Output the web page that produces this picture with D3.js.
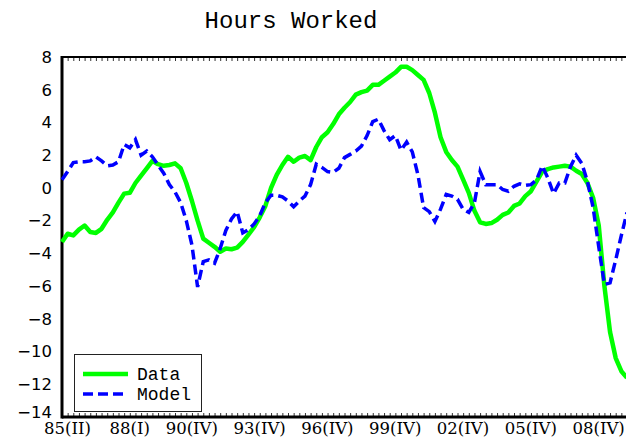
<!DOCTYPE html>
<html>
<head>
<meta charset="utf-8">
<script src="https://cdn.jsdelivr.net/npm/d3@7"></script>
<style>
  body { margin: 0; background: #fff; }
  #my_dataviz { width: 626px; height: 445px; overflow: hidden; }
</style>
</head>
<body>
<div id="my_dataviz"></div>
<script>
// quarterly observations, 85(II) through 10(II)
const startYear = 1985, startQ = 2, nObs = 101;
const romans = ['I', 'II', 'III', 'IV'];
const quarters = [];
for (let k = 0; k < nObs; k++) {
    const q = startQ - 1 + k;
    const yr = (startYear + Math.floor(q / 4)) % 100;
    quarters.push(String(yr).padStart(2, '0') + '(' + romans[q % 4] + ')');
}

const tickLabels = ['85(II)', '88(I)', '90(IV)', '93(IV)', '96(IV)', '99(IV)', '02(IV)', '05(IV)', '08(IV)'];
const yTicks = [8, 6, 4, 2, 0, -2, -4, -6, -8, -10, -12, -14];

const dataSeries = [
    -3.3, -2.8, -2.9, -2.55, -2.3, -2.7, -2.75, -2.5, -1.95, -1.5,
    -0.9, -0.35, -0.3, 0.3, 0.75, 1.2, 1.65, 1.45, 1.35, 1.4,
    1.5, 1.2, 0.3, -0.8, -2.0, -3.1, -3.35, -3.6, -3.9, -3.7,
    -3.75, -3.65, -3.3, -2.85, -2.4, -1.8, -1.1, 0.0, 0.8, 1.4,
    1.9, 1.6, 1.85, 1.95, 1.7, 2.5, 3.1, 3.4, 3.9, 4.5,
    4.9, 5.25, 5.7, 5.85, 5.95, 6.3, 6.3, 6.55, 6.8, 7.05,
    7.4, 7.4, 7.2, 6.9, 6.6, 5.8, 4.6, 3.1, 2.2, 1.7,
    1.3, 0.5, -0.3, -1.4, -2.1, -2.2, -2.15, -1.95, -1.65, -1.5,
    -1.1, -0.95, -0.5, -0.2, 0.4, 1.0, 1.15, 1.25, 1.3, 1.35,
    1.3, 1.05, 0.85, 0.3, -0.6, -2.3, -6.0, -8.8, -10.4, -11.2,
    -11.6
];

const modelSeries = [
    0.5, 1.0, 1.55, 1.6, 1.6, 1.65, 1.9, 1.65, 1.35, 1.4,
    1.6, 2.65, 2.45, 2.95, 2.0, 2.25, 1.9, 1.4, 0.9, 0.2,
    -0.25, -0.9, -2.0, -3.5, -6.05, -4.5, -4.4, -4.6, -3.7, -2.6,
    -1.9, -1.45, -2.75, -2.55, -2.2, -1.7, -0.9, -0.45, -0.45, -0.55,
    -0.8, -1.15, -0.8, -0.5, 0.2, 1.45, 1.25, 1.0, 0.95, 1.2,
    1.85, 2.05, 2.25, 2.55, 3.2, 4.05, 4.2, 3.5, 2.95, 3.2,
    2.3, 2.8, 2.2, 0.8, -1.2, -1.45, -2.05, -1.3, -0.4, -0.5,
    -0.7, -1.3, -1.5, -0.9, 1.0, 0.2, 0.2, 0.2, -0.1, -0.2,
    0.1, 0.25, 0.15, 0.2, 0.5, 1.35, 0.6, -0.35, 0.3, 0.3,
    1.3, 2.0, 1.5, 0.4, -1.2, -3.6, -5.9, -5.8, -4.4, -2.9,
    -1.5
];

const seriesNames = ['Data', 'Model'];

let w = 626, h = 445;
const margin = { top: 57, right: -1, bottom: 28, left: 62 };

const svg = d3.select("#my_dataviz")
    .append("svg")
    .attr("width", w)
    .attr("height", h);

const x = d3.scalePoint()
    .domain(quarters)
    .range([margin.left, w - margin.right]);

const y = d3.scaleLinear()
    .domain([-14, 8])
    .range([h - margin.bottom, margin.top]);

const plotTop = y(8), plotBottom = y(-14);

// title
svg.append("text")
    .attr("x", 291)
    .attr("y", 28)
    .attr("text-anchor", "middle")
    .style("font-family", "'Liberation Mono', 'Courier New', monospace")
    .style("font-size", "24px")
    .text("Hours Worked");

// minor quarter ticks on top and bottom
const axTop = d3.axisBottom(x).tickSize(4).tickFormat("");
svg.append("g")
    .attr("transform", `translate(0,${plotTop})`)
    .call(axTop)
    .call(g => g.select(".domain").remove())
    .selectAll("line").attr("stroke", "#333");

const axBot = d3.axisTop(x).tickSize(4).tickFormat("");
svg.append("g")
    .attr("transform", `translate(0,${plotBottom})`)
    .call(axBot)
    .call(g => g.select(".domain").remove())
    .selectAll("line").attr("stroke", "#333");

// frame
svg.append("line")
    .attr("x1", margin.left).attr("x2", w + 5)
    .attr("y1", plotTop).attr("y2", plotTop)
    .attr("stroke", "#000").attr("stroke-width", 2);
svg.append("line")
    .attr("x1", margin.left).attr("x2", w + 5)
    .attr("y1", plotBottom).attr("y2", plotBottom)
    .attr("stroke", "#000").attr("stroke-width", 3);
svg.append("line")
    .attr("x1", margin.left).attr("x2", margin.left)
    .attr("y1", plotTop - 1).attr("y2", plotBottom + 1.5)
    .attr("stroke", "#000").attr("stroke-width", 3);

// y labels
const yAxis = d3.axisLeft(y)
    .tickValues(yTicks)
    .tickSize(0)
    .tickPadding(10)
    .tickFormat(d => d3.format("d")(d).replace("-", "\u2212"));
svg.append("g")
    .attr("transform", `translate(${margin.left},0)`)
    .call(yAxis)
    .call(g => g.select(".domain").remove())
    .selectAll("text")
    .attr("dy", d => d === -14 ? "0.05em" : "0.32em")
    .style("font-family", "'DejaVu Sans', sans-serif")
    .style("font-size", "16.5px")
    .attr("fill", "#000");

// x labels
const xAxis = d3.axisBottom(x)
    .tickValues(tickLabels)
    .tickSize(0)
    .tickPadding(5);
svg.append("g")
    .attr("transform", `translate(0,${plotBottom})`)
    .call(xAxis)
    .call(g => g.select(".domain").remove())
    .selectAll("text")
    .attr("dx", 5)
    .style("font-family", "'DejaVu Serif', serif")
    .style("font-size", "16.5px")
    .attr("fill", "#000");

// lines
const line = d3.line()
    .x((d, i) => x(quarters[i]))
    .y(d => y(d));

svg.append("path")
    .datum(dataSeries)
    .attr("fill", "none")
    .attr("stroke", "#00ff00")
    .attr("stroke-width", 4.5)
    .attr("stroke-linejoin", "round")
    .attr("d", line);

svg.append("path")
    .datum(modelSeries)
    .attr("fill", "none")
    .attr("stroke", "#0000ff")
    .attr("stroke-width", 3.5)
    .attr("stroke-dasharray", "10,5")
    .attr("d", line);

// legend
const leg = svg.append("g");
leg.append("rect")
    .attr("x", 74.5).attr("y", 354.5)
    .attr("width", 127).attr("height", 57)
    .attr("fill", "#fff")
    .attr("stroke", "#222").attr("stroke-width", 1);

const legStyles = [
    { color: "#00ff00", width: 4.5, dash: null },
    { color: "#0000ff", width: 3.5, dash: "10,5" }
];
seriesNames.forEach((name, i) => {
    const ly = 374 + i * 20;
    leg.append("line")
        .attr("x1", 83).attr("x2", 128)
        .attr("y1", ly).attr("y2", ly)
        .attr("stroke", legStyles[i].color)
        .attr("stroke-width", legStyles[i].width)
        .attr("stroke-dasharray", legStyles[i].dash);
    leg.append("text")
        .attr("x", 137).attr("y", ly + 6)
        .style("font-family", "'Liberation Mono', 'Courier New', monospace")
        .style("font-size", "18px")
        .text(name);
});
</script>
</body>
</html>
